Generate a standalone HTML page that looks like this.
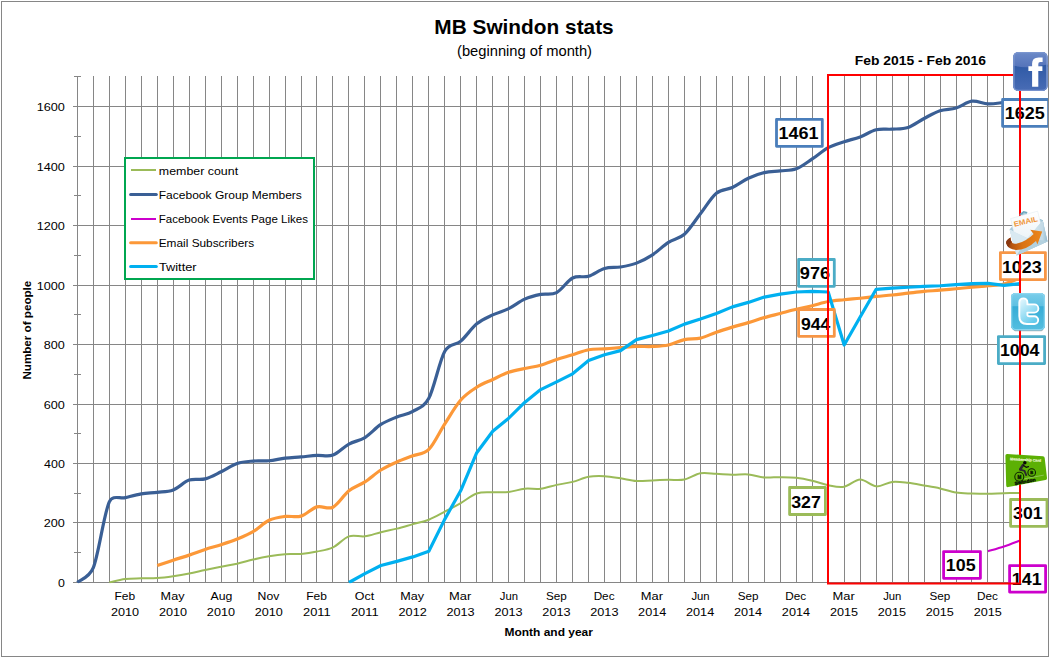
<!DOCTYPE html>
<html><head><meta charset="utf-8"><title>MB Swindon stats</title>
<style>
html,body{margin:0;padding:0;background:#fff;}
body{width:1050px;height:658px;overflow:hidden;}
svg{display:block;font-family:"Liberation Sans",sans-serif;}
.tk{font-size:12px;fill:#000;}
.lg{font-size:12px;fill:#000;}
.dl{font-size:16px;font-weight:bold;fill:#000;}
</style></head><body>
<svg width="1050" height="658" viewBox="0 0 1050 658">
<rect x="0" y="0" width="1050" height="658" fill="#fff"/>
<rect x="1.5" y="1.5" width="1047" height="655" fill="none" stroke="#868686" stroke-width="1"/>
<g stroke="#868686" stroke-width="1" shape-rendering="crispEdges">
<line x1="77.5" y1="76" x2="77.5" y2="583"/>
<line x1="93.5" y1="76" x2="93.5" y2="583"/>
<line x1="109.5" y1="76" x2="109.5" y2="583"/>
<line x1="125.5" y1="76" x2="125.5" y2="583"/>
<line x1="141.5" y1="76" x2="141.5" y2="583"/>
<line x1="157.5" y1="76" x2="157.5" y2="583"/>
<line x1="173.5" y1="76" x2="173.5" y2="583"/>
<line x1="189.5" y1="76" x2="189.5" y2="583"/>
<line x1="205.5" y1="76" x2="205.5" y2="583"/>
<line x1="221.5" y1="76" x2="221.5" y2="583"/>
<line x1="237.5" y1="76" x2="237.5" y2="583"/>
<line x1="253.5" y1="76" x2="253.5" y2="583"/>
<line x1="269.5" y1="76" x2="269.5" y2="583"/>
<line x1="285.5" y1="76" x2="285.5" y2="583"/>
<line x1="301.5" y1="76" x2="301.5" y2="583"/>
<line x1="316.5" y1="76" x2="316.5" y2="583"/>
<line x1="332.5" y1="76" x2="332.5" y2="583"/>
<line x1="348.5" y1="76" x2="348.5" y2="583"/>
<line x1="364.5" y1="76" x2="364.5" y2="583"/>
<line x1="380.5" y1="76" x2="380.5" y2="583"/>
<line x1="396.5" y1="76" x2="396.5" y2="583"/>
<line x1="412.5" y1="76" x2="412.5" y2="583"/>
<line x1="428.5" y1="76" x2="428.5" y2="583"/>
<line x1="444.5" y1="76" x2="444.5" y2="583"/>
<line x1="460.5" y1="76" x2="460.5" y2="583"/>
<line x1="476.5" y1="76" x2="476.5" y2="583"/>
<line x1="492.5" y1="76" x2="492.5" y2="583"/>
<line x1="508.5" y1="76" x2="508.5" y2="583"/>
<line x1="524.5" y1="76" x2="524.5" y2="583"/>
<line x1="540.5" y1="76" x2="540.5" y2="583"/>
<line x1="556.5" y1="76" x2="556.5" y2="583"/>
<line x1="572.5" y1="76" x2="572.5" y2="583"/>
<line x1="588.5" y1="76" x2="588.5" y2="583"/>
<line x1="604.5" y1="76" x2="604.5" y2="583"/>
<line x1="620.5" y1="76" x2="620.5" y2="583"/>
<line x1="636.5" y1="76" x2="636.5" y2="583"/>
<line x1="652.5" y1="76" x2="652.5" y2="583"/>
<line x1="668.5" y1="76" x2="668.5" y2="583"/>
<line x1="684.5" y1="76" x2="684.5" y2="583"/>
<line x1="700.5" y1="76" x2="700.5" y2="583"/>
<line x1="716.5" y1="76" x2="716.5" y2="583"/>
<line x1="732.5" y1="76" x2="732.5" y2="583"/>
<line x1="748.5" y1="76" x2="748.5" y2="583"/>
<line x1="764.5" y1="76" x2="764.5" y2="583"/>
<line x1="780.5" y1="76" x2="780.5" y2="583"/>
<line x1="796.5" y1="76" x2="796.5" y2="583"/>
<line x1="812.5" y1="76" x2="812.5" y2="583"/>
<line x1="828.5" y1="76" x2="828.5" y2="583"/>
<line x1="844.5" y1="76" x2="844.5" y2="583"/>
<line x1="860.5" y1="76" x2="860.5" y2="583"/>
<line x1="876.5" y1="76" x2="876.5" y2="583"/>
<line x1="892.5" y1="76" x2="892.5" y2="583"/>
<line x1="908.5" y1="76" x2="908.5" y2="583"/>
<line x1="924.5" y1="76" x2="924.5" y2="583"/>
<line x1="940.5" y1="76" x2="940.5" y2="583"/>
<line x1="956.5" y1="76" x2="956.5" y2="583"/>
<line x1="971.5" y1="76" x2="971.5" y2="583"/>
<line x1="987.5" y1="76" x2="987.5" y2="583"/>
<line x1="1003.5" y1="76" x2="1003.5" y2="583"/>
<line x1="1019.5" y1="76" x2="1019.5" y2="583"/>
<line x1="73" y1="582.5" x2="1020" y2="582.5"/>
<line x1="74" y1="552.5" x2="81" y2="552.5"/>
<line x1="73" y1="522.5" x2="1020" y2="522.5"/>
<line x1="74" y1="493.5" x2="81" y2="493.5"/>
<line x1="73" y1="463.5" x2="1020" y2="463.5"/>
<line x1="74" y1="433.5" x2="81" y2="433.5"/>
<line x1="73" y1="404.5" x2="1020" y2="404.5"/>
<line x1="74" y1="374.5" x2="81" y2="374.5"/>
<line x1="73" y1="344.5" x2="1020" y2="344.5"/>
<line x1="74" y1="314.5" x2="81" y2="314.5"/>
<line x1="73" y1="285.5" x2="1020" y2="285.5"/>
<line x1="74" y1="255.5" x2="81" y2="255.5"/>
<line x1="73" y1="225.5" x2="1020" y2="225.5"/>
<line x1="74" y1="195.5" x2="81" y2="195.5"/>
<line x1="73" y1="166.5" x2="1020" y2="166.5"/>
<line x1="74" y1="136.5" x2="81" y2="136.5"/>
<line x1="73" y1="106.5" x2="1020" y2="106.5"/>
<line x1="74" y1="76.5" x2="81" y2="76.5"/>
</g>
<text transform="translate(58.01 586.70) scale(1.1336 1)" font-size="10.9" >0</text>
<text transform="translate(43.77 526.70) scale(1.1613 1)" font-size="10.9" >200</text>
<text transform="translate(44.12 467.70) scale(1.1414 1)" font-size="10.9" >400</text>
<text transform="translate(43.77 408.70) scale(1.1613 1)" font-size="10.9" >600</text>
<text transform="translate(43.86 348.70) scale(1.1558 1)" font-size="10.9" >800</text>
<text transform="translate(36.65 289.70) scale(1.1653 1)" font-size="10.9" >1000</text>
<text transform="translate(36.65 229.70) scale(1.1653 1)" font-size="10.9" >1200</text>
<text transform="translate(36.65 170.70) scale(1.1653 1)" font-size="10.9" >1400</text>
<text transform="translate(36.65 110.70) scale(1.1653 1)" font-size="10.9" >1600</text>
<text transform="translate(114.55 599.70) scale(1.1009 1)" font-size="10.9" >Feb</text>
<text transform="translate(111.00 615.60) scale(1.1602 1)" font-size="10.9" >2010</text>
<text transform="translate(160.62 599.70) scale(1.1589 1)" font-size="10.9" >May</text>
<text transform="translate(158.93 615.60) scale(1.1602 1)" font-size="10.9" >2010</text>
<text transform="translate(210.46 599.70) scale(1.1250 1)" font-size="10.9" >Aug</text>
<text transform="translate(206.86 615.60) scale(1.1602 1)" font-size="10.9" >2010</text>
<text transform="translate(257.61 599.70) scale(1.1183 1)" font-size="10.9" >Nov</text>
<text transform="translate(254.78 615.60) scale(1.1602 1)" font-size="10.9" >2010</text>
<text transform="translate(306.25 599.70) scale(1.1009 1)" font-size="10.9" >Feb</text>
<text transform="translate(303.00 615.60) scale(1.1800 1)" font-size="10.9" >2011</text>
<text transform="translate(354.83 599.70) scale(1.1437 1)" font-size="10.9" >Oct</text>
<text transform="translate(350.93 615.60) scale(1.1800 1)" font-size="10.9" >2011</text>
<text transform="translate(400.25 599.70) scale(1.1589 1)" font-size="10.9" >May</text>
<text transform="translate(398.56 615.60) scale(1.1671 1)" font-size="10.9" >2012</text>
<text transform="translate(449.06 599.70) scale(1.1856 1)" font-size="10.9" >Mar</text>
<text transform="translate(446.49 615.60) scale(1.1629 1)" font-size="10.9" >2013</text>
<text transform="translate(499.73 599.70) scale(1.0374 1)" font-size="10.9" >Jun</text>
<text transform="translate(494.41 615.60) scale(1.1629 1)" font-size="10.9" >2013</text>
<text transform="translate(546.05 599.70) scale(1.0733 1)" font-size="10.9" >Sep</text>
<text transform="translate(542.34 615.60) scale(1.1629 1)" font-size="10.9" >2013</text>
<text transform="translate(593.63 599.70) scale(1.0784 1)" font-size="10.9" >Dec</text>
<text transform="translate(590.27 615.60) scale(1.1629 1)" font-size="10.9" >2013</text>
<text transform="translate(640.76 599.70) scale(1.1856 1)" font-size="10.9" >Mar</text>
<text transform="translate(638.09 615.60) scale(1.1634 1)" font-size="10.9" >2014</text>
<text transform="translate(691.44 599.70) scale(1.0374 1)" font-size="10.9" >Jun</text>
<text transform="translate(686.02 615.60) scale(1.1634 1)" font-size="10.9" >2014</text>
<text transform="translate(737.75 599.70) scale(1.0733 1)" font-size="10.9" >Sep</text>
<text transform="translate(733.95 615.60) scale(1.1634 1)" font-size="10.9" >2014</text>
<text transform="translate(785.34 599.70) scale(1.0784 1)" font-size="10.9" >Dec</text>
<text transform="translate(781.87 615.60) scale(1.1634 1)" font-size="10.9" >2014</text>
<text transform="translate(832.47 599.70) scale(1.1856 1)" font-size="10.9" >Mar</text>
<text transform="translate(829.90 615.60) scale(1.1616 1)" font-size="10.9" >2015</text>
<text transform="translate(883.14 599.70) scale(1.0374 1)" font-size="10.9" >Jun</text>
<text transform="translate(877.83 615.60) scale(1.1616 1)" font-size="10.9" >2015</text>
<text transform="translate(929.46 599.70) scale(1.0733 1)" font-size="10.9" >Sep</text>
<text transform="translate(925.75 615.60) scale(1.1616 1)" font-size="10.9" >2015</text>
<text transform="translate(977.04 599.70) scale(1.0784 1)" font-size="10.9" >Dec</text>
<text transform="translate(973.68 615.60) scale(1.1616 1)" font-size="10.9" >2015</text>
<text transform="translate(434.29 33.60) scale(1.0222 1)" font-size="20.4" font-weight="bold" >MB Swindon stats</text>
<text transform="translate(456.98 55.50) scale(1.0091 1)" font-size="14.6" >(beginning of month)</text>
<text transform="translate(504.49 635.50) scale(1.1296 1)" font-size="10.6" font-weight="bold" >Month and year</text>
<text transform="translate(31 379.59) rotate(-90) scale(1.0984 1)" font-size="10.6" font-weight="bold">Number of people</text>
<rect x="125" y="158" width="189" height="121" fill="#fff" stroke="#00A650" stroke-width="2"/>
<line x1="131" y1="170.0" x2="156" y2="170.0" stroke="#9BBB59" stroke-width="2"/>
<text transform="translate(158.86 174.70) scale(1.0691 1)" font-size="11.6" >member count</text>
<line x1="130.6" y1="194.5" x2="156.3" y2="194.5" stroke="#3A5F95" stroke-width="3" stroke-linecap="round"/>
<text transform="translate(158.71 198.80) scale(1.0387 1)" font-size="11.6" >Facebook Group Members</text>
<line x1="131" y1="219.0" x2="156" y2="219.0" stroke="#CC00CC" stroke-width="2"/>
<text transform="translate(158.75 222.80) scale(0.9947 1)" font-size="11.6" >Facebook Events Page Likes</text>
<line x1="130.6" y1="242.7" x2="156.3" y2="242.7" stroke="#FC9838" stroke-width="3" stroke-linecap="round"/>
<text transform="translate(158.72 246.60) scale(1.0217 1)" font-size="11.6" >Email Subscribers</text>
<line x1="130.6" y1="266.5" x2="156.3" y2="266.5" stroke="#00B0F0" stroke-width="3" stroke-linecap="round"/>
<text transform="translate(158.91 270.60) scale(1.1030 1)" font-size="11.6" >Twitter</text>
<clipPath id="plotClip"><rect x="76" y="70" width="946" height="513.3"/></clipPath>
<g fill="none" stroke-linecap="butt" stroke-linejoin="round" clip-path="url(#plotClip)">
<path d="M109.31 582.50C111.97 581.90 119.96 579.62 125.29 578.93C130.61 578.23 135.94 578.48 141.26 578.33C146.59 578.18 151.91 578.38 157.24 578.04C162.56 577.69 167.89 576.99 173.21 576.25C178.54 575.51 183.86 574.61 189.19 573.57C194.51 572.53 199.84 571.14 205.16 570.00C210.49 568.86 215.81 567.77 221.14 566.72C226.46 565.68 231.79 564.94 237.12 563.75C242.44 562.56 247.77 560.82 253.09 559.58C258.42 558.34 263.74 557.20 269.07 556.31C274.39 555.41 279.72 554.62 285.04 554.22C290.37 553.83 295.69 554.37 301.02 553.93C306.34 553.48 311.67 552.64 316.99 551.54C322.32 550.45 327.64 549.91 332.97 547.38C338.29 544.85 343.62 538.20 348.94 536.36C354.27 534.53 359.59 537.06 364.92 536.36C370.24 535.67 375.57 533.49 380.89 532.20C386.22 530.91 391.54 529.97 396.87 528.63C402.20 527.29 407.52 525.65 412.85 524.16C418.17 522.67 423.50 521.78 428.82 519.70C434.15 517.61 439.47 514.44 444.80 511.66C450.12 508.88 455.45 506.05 460.77 503.03C466.10 500.00 471.42 495.29 476.75 493.50C482.07 491.72 487.40 492.56 492.72 492.31C498.05 492.06 503.37 492.61 508.70 492.02C514.02 491.42 519.35 489.29 524.67 488.74C530.00 488.20 535.32 489.39 540.65 488.74C545.97 488.10 551.30 486.01 556.63 484.87C561.95 483.73 567.28 483.23 572.60 481.90C577.93 480.56 583.25 477.78 588.58 476.84C593.90 475.89 599.23 475.99 604.55 476.24C609.88 476.49 615.20 477.53 620.53 478.32C625.85 479.12 631.18 480.66 636.50 481.00C641.83 481.35 647.15 480.61 652.48 480.41C657.80 480.21 663.13 479.96 668.45 479.81C673.78 479.66 679.10 480.61 684.43 479.51C689.75 478.42 695.08 474.21 700.40 473.26C705.73 472.32 711.06 473.61 716.38 473.86C721.71 474.11 727.03 474.65 732.36 474.75C737.68 474.85 743.01 474.01 748.33 474.45C753.66 474.90 758.98 476.98 764.31 477.43C769.63 477.88 774.96 477.08 780.28 477.13C785.61 477.18 790.93 477.13 796.26 477.73C801.58 478.32 806.91 479.46 812.23 480.70C817.56 481.94 822.88 484.18 828.21 485.17C833.53 486.16 838.86 487.60 844.18 486.66C849.51 485.72 854.83 479.56 860.16 479.51C865.49 479.46 870.81 485.96 876.14 486.36C881.46 486.76 886.79 482.49 892.11 481.90C897.44 481.30 902.76 482.19 908.09 482.79C913.41 483.38 918.74 484.52 924.06 485.47C929.39 486.41 934.71 487.25 940.04 488.44C945.36 489.63 950.69 491.77 956.01 492.61C961.34 493.45 966.66 493.31 971.99 493.50C977.31 493.70 982.64 493.85 987.96 493.80C993.29 493.75 998.61 493.35 1003.94 493.21C1009.26 493.06 1017.25 492.96 1019.91 492.91" stroke="#9BBB59" stroke-width="2"/>
<path d="M77.36 582.50C80.02 580.02 89.32 577.77 93.34 567.62C98.66 554.17 103.99 513.50 109.31 501.84C112.74 494.33 119.96 499.01 125.29 497.67C130.61 496.33 135.94 494.69 141.26 493.80C146.59 492.91 151.91 492.96 157.24 492.31C162.56 491.67 167.89 491.97 173.21 489.93C178.54 487.90 183.86 481.94 189.19 480.11C194.51 478.27 199.84 480.31 205.16 478.92C210.49 477.53 215.81 474.35 221.14 471.78C226.46 469.20 231.79 465.23 237.12 463.44C242.44 461.66 247.77 461.51 253.09 461.06C258.42 460.61 263.74 461.26 269.07 460.76C274.39 460.27 279.72 458.73 285.04 458.08C290.37 457.44 295.69 457.34 301.02 456.89C306.34 456.45 311.67 455.70 316.99 455.40C322.32 455.11 327.64 456.99 332.97 455.11C338.29 453.22 343.62 447.02 348.94 444.09C354.27 441.17 359.59 440.82 364.92 437.55C370.24 434.27 375.57 427.87 380.89 424.45C386.22 421.03 391.54 419.19 396.87 417.01C402.20 414.83 407.52 414.48 412.85 411.35C418.17 408.23 423.97 407.38 428.82 398.26C434.15 388.24 439.47 360.75 444.80 351.23C449.41 342.97 455.45 345.67 460.77 341.11C466.10 336.54 471.42 328.21 476.75 323.84C482.07 319.48 487.40 317.45 492.72 314.92C498.05 312.39 503.37 311.29 508.70 308.66C514.02 306.04 519.35 301.52 524.67 299.14C530.00 296.76 535.32 295.47 540.65 294.38C545.97 293.29 551.30 295.32 556.63 292.59C561.95 289.86 567.28 280.74 572.60 278.01C577.93 275.28 583.25 277.81 588.58 276.22C593.90 274.63 599.23 270.02 604.55 268.48C609.88 266.94 615.20 267.89 620.53 266.99C625.85 266.10 631.18 265.16 636.50 263.12C641.83 261.09 647.15 258.26 652.48 254.79C657.80 251.32 663.13 245.71 668.45 242.29C673.78 238.87 679.10 239.02 684.43 234.25C689.75 229.49 695.08 220.56 700.40 213.72C705.73 206.87 711.06 197.54 716.38 193.18C721.71 188.81 727.03 190.00 732.36 187.52C737.68 185.04 743.01 180.78 748.33 178.30C753.66 175.81 758.98 173.88 764.31 172.64C769.63 171.40 774.96 171.50 780.28 170.85C785.61 170.21 790.93 170.75 796.26 168.77C801.58 166.79 806.91 162.47 812.23 158.95C817.56 155.43 822.88 150.51 828.21 147.64C833.53 144.76 838.86 143.47 844.18 141.68C849.51 139.90 854.83 138.91 860.16 136.92C865.49 134.94 870.81 131.07 876.14 129.78C881.46 128.49 886.79 129.58 892.11 129.18C897.44 128.79 902.76 129.18 908.09 127.40C913.41 125.61 918.74 121.25 924.06 118.47C929.39 115.69 934.71 112.47 940.04 110.73C945.36 108.99 950.69 109.64 956.01 108.05C961.34 106.46 966.66 101.90 971.99 101.20C977.31 100.51 982.64 103.69 987.96 103.88C993.29 104.08 998.61 102.99 1003.94 102.40C1009.26 101.80 1017.25 100.66 1019.91 100.31" stroke="#3A5F95" stroke-width="3.2"/>
<path d="M987.96 551.25C990.63 550.45 998.61 548.27 1003.94 546.48C1009.26 544.70 1017.25 541.52 1019.91 540.53" stroke="#CC00CC" stroke-width="2"/>
<path d="M157.24 565.53C159.90 564.64 167.89 561.91 173.21 560.18C178.54 558.44 183.86 556.90 189.19 555.12C194.51 553.33 199.84 551.20 205.16 549.46C210.49 547.72 215.81 546.44 221.14 544.70C226.46 542.96 231.79 541.23 237.12 539.04C242.44 536.86 247.77 534.73 253.09 531.60C258.42 528.48 263.74 522.82 269.07 520.29C274.39 517.76 279.72 517.12 285.04 516.42C290.37 515.73 295.69 517.71 301.02 516.12C306.34 514.54 311.67 508.39 316.99 506.90C322.32 505.41 327.64 509.87 332.97 507.20C338.29 504.52 343.62 495.04 348.94 490.82C354.27 486.61 359.59 485.37 364.92 481.90C370.24 478.42 375.57 473.31 380.89 469.99C386.22 466.67 391.54 464.33 396.87 461.95C402.20 459.57 407.52 457.79 412.85 455.70C418.17 453.62 423.50 454.76 428.82 449.45C434.15 444.14 439.47 432.09 444.80 423.85C450.12 415.62 455.45 406.14 460.77 400.04C466.10 393.94 471.42 390.67 476.75 387.24C482.07 383.82 487.40 381.99 492.72 379.50C498.05 377.02 503.37 374.20 508.70 372.36C514.02 370.53 519.35 369.68 524.67 368.49C530.00 367.30 535.32 366.71 540.65 365.22C545.97 363.73 551.30 361.30 556.63 359.56C561.95 357.83 567.28 356.44 572.60 354.80C577.93 353.16 583.25 350.73 588.58 349.74C593.90 348.75 599.23 349.19 604.55 348.85C609.88 348.50 615.20 348.05 620.53 347.66C625.85 347.26 631.18 346.66 636.50 346.47C641.83 346.27 647.15 346.71 652.48 346.47C657.80 346.22 663.13 346.12 668.45 344.98C673.78 343.84 679.10 340.76 684.43 339.62C689.75 338.48 695.08 339.37 700.40 338.13C705.73 336.89 711.06 334.01 716.38 332.18C721.71 330.34 727.03 328.71 732.36 327.12C737.68 325.53 743.01 324.24 748.33 322.65C753.66 321.07 758.98 319.13 764.31 317.59C769.63 316.06 774.96 314.82 780.28 313.43C785.61 312.04 790.93 310.55 796.26 309.26C801.58 307.97 806.91 306.98 812.23 305.69C817.56 304.40 822.88 302.51 828.21 301.52C833.53 300.53 838.86 300.28 844.18 299.74C849.51 299.19 854.83 298.79 860.16 298.25C865.49 297.70 870.81 297.01 876.14 296.46C881.46 295.92 886.79 295.52 892.11 294.97C897.44 294.43 902.76 293.78 908.09 293.19C913.41 292.59 918.74 291.90 924.06 291.40C929.39 290.91 934.71 290.66 940.04 290.21C945.36 289.76 950.69 289.22 956.01 288.72C961.34 288.23 966.66 287.73 971.99 287.23C977.31 286.74 982.64 286.29 987.96 285.75C993.29 285.20 998.61 285.25 1003.94 283.96C1009.26 282.67 1017.25 279.00 1019.91 278.01" stroke="#FC9838" stroke-width="3.2"/>
<path d="M348.94 582.50L364.92 573.57L380.89 565.53L396.87 561.37L412.85 556.90L428.82 551.25L444.80 519.10L460.77 490.53L476.75 452.73L492.72 431.30L508.70 418.20L524.67 402.42L540.65 389.62L556.63 381.89L572.60 373.85L588.58 360.46L604.55 354.80L620.53 350.63L636.50 339.62L652.48 335.45L668.45 330.99L684.43 324.14L700.40 319.08L716.38 313.43L732.36 306.88L748.33 302.41L764.31 297.06L780.28 294.08L796.26 292.00L812.23 291.40L828.21 292.00L844.18 344.98L860.16 317.00L876.14 289.32L892.11 288.13L908.09 287.23L924.06 286.34L940.04 285.75L956.01 284.56L971.99 283.66L987.96 283.36L1003.94 285.45L1019.91 283.66" stroke="#00B0F0" stroke-width="3.2"/>
</g>
<rect x="776.50" y="119.40" width="45.80" height="26.90" fill="#fff" stroke="#4A7EBB" stroke-width="2.8" stroke-linejoin="round"/>
<text transform="translate(778.47 138.80) scale(1.0913 1)" font-size="16.5" font-weight="bold" >1461</text>
<rect x="1002.60" y="99.50" width="46.00" height="26.80" fill="#fff" stroke="#4A7EBB" stroke-width="2.8" stroke-linejoin="round"/>
<text transform="translate(1004.78 118.70) scale(1.0885 1)" font-size="16.5" font-weight="bold" >1625</text>
<rect x="798.60" y="259.50" width="35.70" height="26.80" fill="#fff" stroke="#4BACC6" stroke-width="2.8" stroke-linejoin="round"/>
<text transform="translate(799.86 278.70) scale(1.1002 1)" font-size="16.5" font-weight="bold" >976</text>
<rect x="798.60" y="309.50" width="35.70" height="26.80" fill="#fff" stroke="#F79646" stroke-width="2.8" stroke-linejoin="round"/>
<text transform="translate(800.88 329.80) scale(1.0688 1)" font-size="16.5" font-weight="bold" >944</text>
<rect x="1000.40" y="252.60" width="45.00" height="27.00" fill="#fff" stroke="#F79646" stroke-width="2.8" stroke-linejoin="round"/>
<text transform="translate(1001.88 272.70) scale(1.0866 1)" font-size="16.5" font-weight="bold" >1023</text>
<rect x="998.40" y="336.60" width="46.20" height="27.00" fill="#fff" stroke="#4BACC6" stroke-width="2.8" stroke-linejoin="round"/>
<text transform="translate(999.89 355.70) scale(1.0771 1)" font-size="16.5" font-weight="bold" >1004</text>
<rect x="789.60" y="487.50" width="35.80" height="27.00" fill="#fff" stroke="#9BBB59" stroke-width="2.8" stroke-linejoin="round"/>
<text transform="translate(791.20 508.00) scale(1.0779 1)" font-size="16.5" font-weight="bold" >327</text>
<rect x="1010.60" y="499.50" width="36.40" height="26.80" fill="#fff" stroke="#9BBB59" stroke-width="2.8" stroke-linejoin="round"/>
<text transform="translate(1013.10 518.70) scale(1.0679 1)" font-size="16.5" font-weight="bold" >301</text>
<rect x="943.60" y="551.60" width="36.80" height="26.70" fill="#fff" stroke="#CC00CC" stroke-width="2.8" stroke-linejoin="round"/>
<text transform="translate(945.78 570.70) scale(1.0834 1)" font-size="16.5" font-weight="bold" >105</text>
<rect x="1009.60" y="565.70" width="36.00" height="26.40" fill="#fff" stroke="#CC00CC" stroke-width="2.8" stroke-linejoin="round"/>
<text transform="translate(1011.78 584.80) scale(1.0834 1)" font-size="16.5" font-weight="bold" >141</text>
<rect x="828" y="75" width="192" height="508.5" fill="none" stroke="#FF0000" stroke-width="2"/>
<text transform="translate(854.76 64.50) scale(1.1112 1)" font-size="12.5" font-weight="bold" >Feb 2015 - Feb 2016</text>
<rect x="1049" y="0" width="1" height="658" fill="#fff"/>
<line x1="1048.5" y1="1" x2="1048.5" y2="657" stroke="#868686" stroke-width="1" shape-rendering="crispEdges"/>
<defs>
<linearGradient id="fbTop" x1="0" y1="0" x2="0" y2="1"><stop offset="0" stop-color="#6C8AC8"/><stop offset="1" stop-color="#5574BA"/></linearGradient>
<linearGradient id="fbBot" x1="0" y1="0" x2="0" y2="1"><stop offset="0" stop-color="#2E59A5"/><stop offset="1" stop-color="#4A6DB6"/></linearGradient>
<clipPath id="fbClip"><rect x="1013.2" y="52" width="34.3" height="39" rx="5" ry="5"/></clipPath>
<linearGradient id="twTop" x1="0" y1="0" x2="0" y2="1"><stop offset="0" stop-color="#7ACDEA"/><stop offset="1" stop-color="#5EC0E2"/></linearGradient>
<linearGradient id="twBot" x1="0" y1="0" x2="0" y2="1"><stop offset="0" stop-color="#37ACD6"/><stop offset="1" stop-color="#55BFE0"/></linearGradient>
<clipPath id="twClip"><rect x="1011" y="293" width="34" height="37.3" rx="4.5" ry="4.5"/></clipPath>
<linearGradient id="twT" x1="0" y1="0" x2="0.6" y2="1"><stop offset="0" stop-color="#EAF9FE"/><stop offset="0.5" stop-color="#A9E3F6"/><stop offset="1" stop-color="#66CBEC"/></linearGradient>
<linearGradient id="envBody" x1="0" y1="0" x2="1" y2="1"><stop offset="0" stop-color="#E4F0F6"/><stop offset="0.6" stop-color="#BCD7E4"/><stop offset="1" stop-color="#8FB9CD"/></linearGradient>
<linearGradient id="envR" x1="0" y1="0" x2="1" y2="0"><stop offset="0" stop-color="#DCEAF1"/><stop offset="0.75" stop-color="#C3DAE6"/><stop offset="1" stop-color="#94BBCF"/></linearGradient>
<linearGradient id="arrow" x1="0" y1="0" x2="1" y2="0"><stop offset="0" stop-color="#8C3A10"/><stop offset="0.18" stop-color="#B8560F"/><stop offset="0.45" stop-color="#D97214"/><stop offset="1" stop-color="#EC871D"/></linearGradient>
<linearGradient id="paper" x1="0" y1="0" x2="0" y2="1"><stop offset="0" stop-color="#FFFFFF"/><stop offset="1" stop-color="#E8F1F6"/></linearGradient>
</defs>

<!-- Facebook icon -->
<g id="ic-fb">
<rect x="1013.2" y="52" width="34.3" height="39" rx="5" ry="5" fill="#4668B2"/>
<g clip-path="url(#fbClip)">
<rect x="1013" y="52" width="35" height="15" fill="url(#fbTop)"/>
<path d="M1013 65.6 Q1026 68.2 1033 67 Q1042 65.6 1048 64.6 L1048 92 L1013 92 Z" fill="url(#fbBot)"/>
</g>
<rect x="1013.9" y="52.7" width="32.9" height="37.6" rx="4.4" ry="4.4" fill="none" stroke="#7C97CF" stroke-width="1.3" opacity="0.9"/>
<path d="M1032.1 86.8 L1032.1 71 L1028.4 71 L1028.4 66.2 L1032.1 66.2 L1032.1 63.6 Q1032.1 57.5 1038.6 57.5 L1042.6 57.5 L1042.6 62 L1040.2 62 Q1038.3 62 1038.3 64 L1038.3 66.2 L1042.4 66.2 L1042.4 71 L1038.3 71 L1038.3 86.8 Z" fill="#FFFFFF"/>
</g>

<!-- Email icon -->
<g id="ic-email">
<!-- back flap peeking -->
<path d="M1019 214.5 L1023.5 211 L1027.5 212 L1026 215.5 Z" fill="#6FA8BF"/>
<path d="M1040 219 L1042.8 220.2 L1043.5 224 L1040.5 223 Z" fill="#6FA8BF"/>
<!-- envelope back -->
<path d="M1009.6 229.6 L1024 212.5 L1042.7 220.4 L1047.5 241.4 L1016.6 255.4 Z" fill="#A9CBDB"/>
<!-- paper -->
<path d="M1010.6 218.6 L1037.6 211.2 L1044.2 237.5 L1016.8 245 Z" fill="url(#paper)" stroke="#DDE9EF" stroke-width="0.5"/>
<text transform="translate(1014.4 226.8) rotate(-13.5)" font-size="7.3" font-weight="bold" fill="#F0963A" textLength="24.6" lengthAdjust="spacingAndGlyphs">EMAIL</text>
<!-- envelope front -->
<path d="M1009.6 229.6 L1027.5 238.2 L1042.7 220.4 L1047.5 241.4 L1016.6 255.4 Z" fill="url(#envBody)"/>
<path d="M1027.5 238.2 L1042.7 220.4 L1047.5 241.4 Z" fill="url(#envR)"/>
<path d="M1009.6 229.6 L1027.5 238.2 L1016.6 255.4 Z" fill="#D9E9F1"/>
<path d="M1016.6 255.4 L1027.5 238.2 L1047.5 241.4 Z" fill="#B3D1DF"/>
<!-- arrow -->
<path d="M1010.6 237.6 Q1005.3 240.5 1006.3 243.6 Q1008 249.6 1016 250 Q1026.5 250 1036 240.9 L1037.4 244.4 L1042.2 231.6 L1030.3 229.8 L1033.6 233.9 Q1027 240.6 1018 243.3 Q1012.6 244.8 1011.8 242.1 Q1010.3 240 1010.6 237.6 Z" fill="url(#arrow)"/>
<path d="M1010.6 237.6 Q1005.3 240.5 1006.3 243.6 Q1007 246 1009 247.6 Q1008.6 244.5 1011.8 242.1 Q1010.3 240 1010.6 237.6 Z" fill="#8A3810"/>
</g>

<!-- Twitter icon -->
<g id="ic-tw">
<rect x="1013.5" y="327.5" width="29.5" height="3.7" rx="1.6" ry="1.6" fill="#7F8C92" opacity="0.65"/>
<rect x="1011" y="293" width="34" height="37.3" rx="4.5" ry="4.5" fill="#45B4DA"/>
<g clip-path="url(#twClip)">
<rect x="1011" y="293" width="34" height="13.4" fill="url(#twTop)"/>
<rect x="1011" y="306.4" width="34" height="24" fill="url(#twBot)"/>
</g>
<rect x="1011.7" y="293.7" width="32.6" height="35.9" rx="4" ry="4" fill="none" stroke="#8FD6EF" stroke-width="1.2" opacity="0.9"/>
<path d="M1019.3 302.4 A4.05 4.05 0 0 1 1027.4 302.4 L1027.4 304.4 L1034.3 304.4 A4.1 4.1 0 0 1 1034.3 312.6 L1027.4 312.6 L1027.4 314.4 Q1027.4 316.2 1029.3 316.2 L1034.3 316.2 A3.9 3.9 0 0 1 1034.3 324 L1027 324 Q1019.3 324 1019.3 316 Z" fill="url(#twT)" stroke="#FFFFFF" stroke-width="1.9" stroke-linejoin="round"/>
</g>

<!-- Membership card icon -->
<g id="ic-card">
<path d="M1007.2 454.1 Q1005.3 454 1005.4 455.9 L1006.2 485.6 Q1006.3 487.5 1008.2 487.1 L1045.4 480 Q1047.2 479.6 1047 477.9 L1044.7 457.9 Q1044.5 456.3 1042.9 456.2 Z" fill="#5CB004"/>
<text transform="translate(1010.1 460.2) rotate(3.2)" font-size="3.7" font-weight="bold" fill="#E4F5D0" stroke="#E4F5D0" stroke-width="0.2" textLength="31" lengthAdjust="spacingAndGlyphs">Membership Card</text>
<path d="M1024.2 478.9 L1043.8 475.1" stroke="#93C760" stroke-width="1" opacity="0.85"/>
<circle cx="1019.3" cy="476.8" r="4.5" fill="none" stroke="#0E2503" stroke-width="1.1"/>
<text x="1019.3" y="478.5" font-size="4.6" font-weight="bold" fill="#081802" stroke="#081802" stroke-width="0.35" text-anchor="middle">M</text>
<circle cx="1031.7" cy="472.5" r="3.8" fill="none" stroke="#0E2503" stroke-width="1.1"/>
<text x="1031.7" y="474" font-size="4.1" font-weight="bold" fill="#081802" stroke="#081802" stroke-width="0.35" text-anchor="middle">B</text>
<circle cx="1024.8" cy="462.7" r="1.75" fill="#060606"/>
<path d="M1023.1 465 L1020.3 469.3" fill="none" stroke="#2B282E" stroke-width="2.6" stroke-linecap="round"/>
<path d="M1020.3 469.6 L1024.5 470.8 L1026.2 475.1" fill="none" stroke="#2B282E" stroke-width="1.9" stroke-linecap="round" stroke-linejoin="round"/>
<path d="M1023.6 465.5 L1026.2 467.3 L1028.5 466.7" fill="none" stroke="#0C0C0C" stroke-width="1.2" stroke-linecap="round" stroke-linejoin="round"/>
<text transform="translate(1015 485.3) rotate(-11.7)" font-size="4.7" font-weight="bold" fill="#081802" stroke="#081802" stroke-width="0.4" textLength="21.2" lengthAdjust="spacingAndGlyphs">Swindon</text>
</g>

</svg></body></html>
